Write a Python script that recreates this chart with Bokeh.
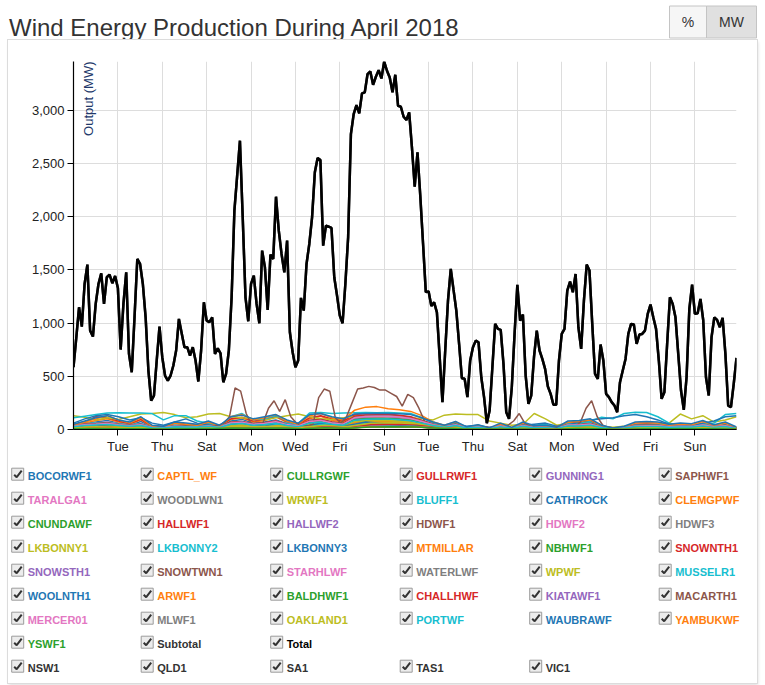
import math
import pandas as pd
from bokeh.plotting import figure
from bokeh.layouts import column
from bokeh.models import (Range1d, DaysTicker, DatetimeTickFormatter, SingleIntervalTicker,
                          NumeralTickFormatter, Label)
from bokeh.core.properties import value
from bokeh.palettes import Category10
from bokeh.embed import file_html
from bokeh.resources import INLINE

# ---------------- data ----------------
TITLE = "Wind Energy Production During April 2018"
BUTTONS = ["%", "MW"]
Y_LABEL = "Output (MW)"
START = "2018-04-01 00:00"
STEP = "3h"

total = [585, 860, 1148, 967, 1367, 1549, 929, 873, 1180, 1367,
         1467, 1180, 1430, 1455, 1374, 1442, 1330, 751, 1180, 1477,
         710, 538, 1054, 1602, 1555, 1367, 1054, 554, 272, 319,
         648, 967, 679, 507, 460, 507, 601, 742, 1039, 904,
         773, 773, 695, 773, 648, 451, 742, 1195, 1023, 1008,
         1054, 710, 763, 716, 444, 523, 742, 1242, 2056, 2384,
         2713, 1993, 1242, 1017, 1367, 1446, 1180, 998, 1680, 1524,
         1123, 1643, 1602, 2187, 1868, 1649, 1477, 1774, 914, 726,
         585, 648, 1236, 1117, 1555, 1743, 1993, 2416, 2550, 2531,
         1727, 1915, 1905, 1893, 1430, 1258, 1070, 998, 1367, 1805,
         2775, 2963, 3048, 2969, 3157, 3167, 3339, 3364, 3238, 3314,
         3376, 3298, 3457, 3370, 3307, 3167, 3332, 3041, 3032, 2938,
         2907, 2979, 2650, 2281, 2603, 2200, 1750, 1290, 1298, 1160,
         1195, 1101, 680, 257, 742, 1211, 1508, 1311, 1117, 804,
         482, 476, 304, 648, 773, 835, 820, 491, 304, 59,
         178, 585, 992, 945, 936, 616, 163, 100, 397, 898,
         1358, 1023, 1079, 507, 241, 319, 679, 929, 742, 663,
         569, 404, 335, 232, 232, 648, 898, 945, 1305, 1390,
         1289, 1461, 961, 757, 1211, 1549, 1493, 992, 523, 476,
         798, 648, 335, 304, 257, 225, 163, 444, 554, 663,
         898, 992, 986, 804, 892, 898, 929, 1086, 1173, 1054,
         945, 648, 288, 350, 804, 1242, 1180, 1054, 710, 366,
         185, 491, 1133, 1361, 1086, 1092, 1227, 1029, 491, 319,
         867, 1054, 1029, 961, 1048, 710, 225, 210, 429, 673]
subtotal = list(total)

bocorwf1 = [30,55,70,85,60,40,75,20,15,40, 35,30,50,25,80,95,60,70,90,55, 35,85,100,70,60,105,110,108,100,95,
            85,60,40,20,45,10,25,5,30,10, 40,15,20,10,45,50,60,20,5,10, 35,40,35,25,30,25,45,20,35,10]
captl_wf = [40,60,85,100,70,50,90,25,20,55, 45,40,60,30,95,110,70,85,120,65, 40,100,125,85,70,130,135,128,125,115,
            100,70,45,25,55,12,30,8,40,12, 50,20,25,12,55,60,75,25,8,15, 40,45,40,30,35,30,55,25,40,12]
cullrgwf = [8,12,10,7,4,6,8,14,12,15, 9,18,13,26,28,25,14,8,5,6, 6,4,10,9,3,8,7,6,9,6]
gullrwf1 = [45,70,120,110,80,55,95,30,25,60, 50,45,65,35,100,115,80,95,125,75, 50,110,130,100,80,140,150,148,145,135,
            120,85,55,30,60,15,35,10,45,15, 55,25,30,15,60,65,80,30,10,20, 50,55,50,35,40,35,60,30,45,15]
gunning1 = [14,20,16,12,8,11,12,22,18,22, 14,28,20,40,44,38,22,13,8,9, 9,7,16,13,5,13,11,10,14,9]
saphwf1 = [5,10,15,20,12,8,15,3,2,8, 6,5,10,4,20,25,15,18,25,12, 6,25,30,20,15,40,50,55,52,45,
           35,20,10,5,12,2,6,1,8,2, 10,4,5,2,12,14,18,5,1,3, 9,10,9,6,8,7,12,5,9,2]
taralga1 = [30,45,60,70,55,35,60,18,14,35, 30,28,40,20,65,75,50,60,80,45, 30,70,85,60,50,90,100,98,95,88,
            78,55,35,18,35,8,20,4,25,8, 30,12,16,8,35,38,48,16,4,10, 28,30,30,20,25,22,38,18,30,8]
woodlwn1 = [13,19,15,11,7,10,11,22,18,22, 14,28,20,42,45,40,21,12,8,8, 9,6,16,13,5,13,11,10,14,9]
wrwf1 = [130,115,90,110,95,120,145,150,160,140, 110,120,145,150,120,110,100,90,110,130,
         145,120,100,95,110,120,115,110,120,115, 110,100,90,135,145,140,140,80,60,40,
         50,150,100,40,60,50,40,30,20,30, 40,35,50,60,145,100,130,70,90,120]
bluff1 = [15,20,17,12,8,12,13,25,20,25, 15,30,22,45,50,44,24,14,9,10, 10,7,18,15,6,15,12,11,16,10]
cathrock = [18,25,20,15,10,14,16,32,27,32, 20,40,28,58,62,55,30,18,11,12, 13,9,23,19,7,18,15,14,20,13]
clemgpwf = [16,22,18,14,9,13,14,28,23,28, 17,34,25,50,55,48,26,15,10,11, 11,8,20,16,6,16,13,12,17,11]
cnundawf = [12,18,14,11,7,10,11,22,18,22, 14,27,20,40,44,38,21,12,8,8, 9,6,16,13,5,13,11,10,14,9]
hallwf1 = [25,35,40,45,35,28,35,15,14,25, 22,22,30,18,50,55,38,45,58,38, 26,60,68,50,40,85,90,92,92,88,
           78,58,35,20,36,12,20,6,25,10, 28,14,16,10,32,32,38,16,6,12, 26,28,27,18,22,22,32,18,27,9]
hallwf2 = [18,26,30,34,26,20,26,11,10,18, 16,16,22,13,36,40,28,34,42,28, 19,44,50,37,30,62,66,68,68,64,
           57,42,26,15,26,9,15,5,18,7, 21,10,12,7,24,24,28,12,5,9, 19,20,20,14,17,16,24,13,20,7]
hdwf1 = [27,38,42,48,38,30,38,16,15,26, 24,24,31,19,52,58,40,48,60,40, 28,62,70,52,42,88,96,98,98,92,
         82,60,38,22,38,14,22,7,28,11, 31,16,18,11,35,35,41,18,7,13, 28,30,29,20,25,24,35,20,29,10]
hdwf2 = [25,40,45,46,36,32,36,18,14,28, 22,26,29,21,50,60,38,50,58,42, 26,64,68,54,40,90,94,99,96,94,
         80,62,36,24,36,16,20,9,26,13, 29,18,16,13,33,37,39,20,6,15, 26,32,27,22,23,26,33,22,27,12]
hdwf3 = [28,42,46,50,40,31,40,17,16,27, 25,25,32,20,54,62,42,50,64,42, 29,66,74,55,44,94,102,104,104,98,
         86,64,40,23,40,15,23,8,29,12, 33,17,19,12,37,37,44,19,8,14, 30,31,31,21,26,25,37,21,31,11]
lkbonny1 = [20,28,32,36,28,22,28,12,11,20, 18,18,24,14,40,44,30,36,46,30, 21,48,54,40,32,70,76,78,78,74,
            66,48,30,17,28,10,17,6,21,8, 24,12,14,8,27,27,32,14,6,10, 22,23,23,16,19,18,27,15,23,8]
lkbonny2 = [40,55,60,65,55,45,55,25,22,40, 35,35,45,28,120,150,90,100,130,80, 55,155,160,150,155,158,160,158,160,155,
            150,110,60,35,60,20,35,10,45,15, 50,25,28,15,55,55,65,30,10,20, 45,48,48,33,40,38,55,30,45,15]
lkbonny3 = [10,14,11,9,6,8,9,17,14,17, 11,22,16,33,36,32,17,10,6,7, 7,5,13,11,4,11,9,8,11,7]
mtmillar = [18,26,28,32,26,20,26,11,10,18, 16,16,21,13,34,38,27,32,40,27, 19,42,48,35,28,60,66,68,68,64,
            56,40,25,14,25,9,14,5,18,7, 20,10,12,7,23,23,27,12,5,9, 19,20,20,14,16,16,23,13,19,7]
nbhwf1 = [34,48,52,58,46,38,46,20,19,32, 29,29,38,23,64,70,50,58,74,48, 34,78,88,64,52,115,125,128,128,120,
          106,78,46,28,47,17,28,9,35,14, 38,21,22,14,44,44,52,23,9,17, 36,38,37,26,32,30,44,26,37,13]
snownth1 = [36,52,56,62,50,40,50,22,20,34, 31,31,41,25,68,76,54,64,80,52, 37,84,94,70,56,124,136,138,138,130,
            115,84,50,30,50,18,30,10,38,15, 42,23,24,15,48,48,56,25,10,18, 39,41,40,28,34,33,48,28,40,14]
snowsth1 = [32,46,50,55,44,36,44,19,18,30, 27,27,36,22,60,66,47,56,70,46, 33,74,82,61,49,108,118,120,120,113,
            100,73,44,26,44,16,26,9,33,13, 36,20,21,13,42,42,49,22,9,16, 34,36,35,25,30,29,42,25,35,12]
snowtwn1 = [25,36,40,44,35,28,35,15,14,23, 21,21,28,17,47,52,37,44,55,36, 26,58,65,48,39,85,93,95,95,89,
            78,57,35,21,35,12,21,7,26,10, 29,16,17,10,33,33,39,17,7,13, 27,28,28,20,24,23,33,20,28,10]
starhlwf = [9,12,10,8,5,7,8,15,13,16, 10,20,14,30,33,29,15,9,6,6, 7,4,12,10,4,10,8,8,11,7]
waterlwf = [33,47,51,57,46,37,46,20,19,31, 28,28,37,23,63,69,49,58,73,47, 34,77,86,63,51,112,124,127,127,119,
            105,77,46,28,46,17,28,9,34,14, 38,21,22,14,43,43,51,23,9,17, 35,37,37,26,31,30,43,26,36,13]
wpwf = [22,32,35,40,32,25,32,14,13,21, 19,19,25,16,42,46,33,40,49,32, 23,52,58,43,35,76,84,86,86,80,
        70,51,31,18,31,11,19,6,23,9, 26,14,15,9,29,29,35,15,6,11, 24,25,25,18,21,21,29,18,25,9]
musselr1 = [110,125,140,155,158,156,155,150,90,130, 130,80,60,40,50,60,40,30,50,60, 40,30,50,40,30,40,60,50,40,30,
            40,30,20,30,40,20,30,15,20,10, 30,40,50,20,30,60,80,116,100,150, 163,160,120,60,40,30,50,60,140,150]
woolnth1 = [60,100,130,140,120,90,110,60,40,70, 100,60,40,30,50,70,40,30,60,50, 30,40,60,50,30,50,70,60,50,40,
            50,40,20,40,50,30,40,20,30,15, 40,50,60,30,40,70,90,100,110,130, 140,120,90,50,40,30,60,80,120,130]
arwf1 = [40,70,100,130,90,60,110,30,20,60, 50,40,70,30,120,140,90,110,140,80, 50,130,150,110,90,180,210,215,195,185,
         170,130,70,40,70,20,40,10,50,20, 60,30,35,20,70,75,90,35,10,25, 60,65,60,40,50,45,75,40,60,20]
baldhwf1 = [28,40,44,48,40,32,40,17,16,27, 25,25,32,20,55,60,42,50,62,42, 29,65,74,56,45,92,100,102,102,96,
            86,64,40,23,40,15,23,8,29,12, 33,17,19,12,37,37,44,19,8,14, 30,31,31,21,26,25,37,21,31,11]
challhwf = [14,20,16,12,8,11,12,24,20,24, 15,30,22,46,50,44,24,14,9,10, 10,7,18,15,5,14,12,11,16,10]
kiatawf1 = [8,12,9,7,5,7,7,15,12,15, 9,18,13,27,29,26,14,8,6,6, 6,4,11,9,3,8,7,7,9,6]
macarth1 = [20,30,15,10,25,40,30,20,10,15,30,20,10,5,10,20,25,15,10,20,30,25,15,10,20,30,40,60,
            120,390,360,150,40,30,60,200,270,170,280,120,60,40,30,50,300,380,360,110,60,120,250,380,
            390,405,395,370,370,340,310,220,330,300,200,80,40,
            30,20,15,25,20,10,8,15,20,25,15,10,20,40, 80,150,60, 30,20,15,10,20,30,25,15,30,
            70,200,270,120,40, 20,15,10,5,10,20,30,25,15,20,30,25,20,15,10,20,30,40,30,20,15,10,20,25]
mercer01 = [30,45,50,56,45,36,45,19,18,30, 27,27,36,22,62,68,48,57,72,46, 33,76,85,62,50,110,122,125,125,117,
            103,76,45,27,45,16,27,9,33,13, 37,20,21,13,42,42,50,22,9,16, 34,36,36,25,30,29,42,25,35,12]
mlwf1 = [8,11,9,7,4,6,7,14,12,14, 9,18,13,27,29,26,14,8,5,6, 6,4,10,8,3,8,7,6,9,6]
oakland1 = [18,26,21,16,10,15,16,32,27,32, 20,40,28,58,63,55,30,18,11,12, 13,9,23,19,7,18,15,14,20,13]
portwf = [26,38,42,46,38,30,38,16,15,25, 23,23,30,19,50,56,39,47,58,38, 27,60,68,50,41,88,96,98,98,92,
          82,60,37,21,37,14,21,7,27,11, 30,16,17,11,34,34,40,18,7,13, 28,29,29,20,24,23,34,20,28,10]
waubrawf = [50,80,110,130,90,70,120,40,30,70, 60,50,80,40,120,135,100,120,140,90, 60,140,150,120,100,145,150,152,150,148,
            140,110,70,40,75,25,45,15,60,20, 70,35,40,20,80,85,100,40,15,30, 70,75,70,50,60,55,85,45,70,25]
yambukwf = [8,11,9,7,5,6,7,14,12,14, 9,17,12,25,27,24,13,8,5,5, 6,4,10,8,3,8,7,6,9,6]
yswf1 = [7,10,8,6,4,6,6,13,11,13, 8,16,12,24,26,23,12,7,5,5, 5,3,9,7,3,7,6,6,8,5]

farm_names = ["BOCORWF1", "CAPTL_WF", "CULLRGWF", "GULLRWF1", "GUNNING1", "SAPHWF1",
              "TARALGA1", "WOODLWN1", "WRWF1", "BLUFF1", "CATHROCK", "CLEMGPWF",
              "CNUNDAWF", "HALLWF1", "HALLWF2", "HDWF1", "HDWF2", "HDWF3",
              "LKBONNY1", "LKBONNY2", "LKBONNY3", "MTMILLAR", "NBHWF1", "SNOWNTH1",
              "SNOWSTH1", "SNOWTWN1", "STARHLWF", "WATERLWF", "WPWF", "MUSSELR1",
              "WOOLNTH1", "ARWF1", "BALDHWF1", "CHALLHWF", "KIATAWF1", "MACARTH1",
              "MERCER01", "MLWF1", "OAKLAND1", "PORTWF", "WAUBRAWF", "YAMBUKWF", "YSWF1"]
farm_values = [bocorwf1, captl_wf, cullrgwf, gullrwf1, gunning1, saphwf1,
               taralga1, woodlwn1, wrwf1, bluff1, cathrock, clemgpwf,
               cnundawf, hallwf1, hallwf2, hdwf1, hdwf2, hdwf3,
               lkbonny1, lkbonny2, lkbonny3, mtmillar, nbhwf1, snownth1,
               snowsth1, snowtwn1, starhlwf, waterlwf, wpwf, musselr1,
               woolnth1, arwf1, baldhwf1, challhwf, kiatawf1, macarth1,
               mercer01, mlwf1, oakland1, portwf, waubrawf, yambukwf, yswf1]
extra_names = ["Subtotal", "Total"]
regions = ["NSW1", "QLD1", "SA1", "TAS1", "VIC1"]

# ---------------- styling ----------------
FONT = "Liberation Sans"
PAL = Category10[10]
farm_colors = [PAL[k % 10] for k in range(len(farm_names))]
PAGE_W = 765
W = 749          # panel width
PANEL_X = 8

def no_align(f):
    if "frame_align" in type(f).properties():
        f.frame_align = False
    return f

def blank(w, h):
    f = figure(width=w, height=h, x_range=Range1d(0, w), y_range=Range1d(h, 0),
               output_backend="svg", toolbar_location=None, min_border=0,
               x_axis_type=None, y_axis_type=None, outline_line_color=None)
    f.grid.visible = False
    f.background_fill_color = "white"
    f.border_fill_color = "white"
    return no_align(f)

# ---------------- header ----------------
hdr = blank(PAGE_W, 40)
hdr.text(x=[8.5], y=[27], text=[TITLE], text_font=value(FONT), text_font_size="24px",
         text_color="#333333", text_baseline="alphabetic", text_align="left")
hdr.quad(left=[669, 706], right=[706, 756], top=[5.5, 5.5], bottom=[37.5, 37.5],
         fill_color=["#f6f6f6", "#e0e0e0"], line_color="#c4c4c4", line_width=1)
hdr.text(x=[687.5, 731], y=[21.5, 21.5], text=BUTTONS, text_font=value(FONT), text_font_size="14px",
         text_color="#333333", text_align="center", text_baseline="middle")

# ---------------- chart ----------------
times = pd.date_range(START, periods=len(total), freq=STEP)
t0, t1 = times[0], times[-1]
ymax = max(total)
chart = figure(width=W, height=418, x_axis_type="datetime",
               x_range=Range1d(t0, t1), y_range=Range1d(0, ymax),
               output_backend="svg", toolbar_location=None,
               min_border_left=65, min_border_right=21, min_border_top=21, min_border_bottom=29,
               outline_line_color=None)
no_align(chart)
chart.background_fill_color = "white"
chart.border_fill_color = "white"

for vals, col in zip(farm_values, farm_colors):
    ft = pd.date_range(t0, t1, periods=len(vals))
    chart.line(ft, vals, line_color=col, line_width=1.5)
chart.line(times, subtotal, line_color="#333333", line_width=2.5)
chart.line(times, total, line_color="#000000", line_width=2.5)

chart.xaxis.ticker = DaysTicker(days=list(range(3, 31, 2)))
chart.xaxis.formatter = DatetimeTickFormatter(days="%a")
chart.yaxis.ticker = SingleIntervalTicker(interval=500, num_minor_ticks=0)
chart.yaxis.formatter = NumeralTickFormatter(format="0,0")
for ax in (chart.xaxis, chart.yaxis):
    ax.axis_line_color = "#000000"
    ax.axis_line_width = 1.2
    ax.major_tick_line_color = "#000000"
    ax.major_tick_out = 6
    ax.major_tick_in = 0
    ax.minor_tick_line_color = None
    ax.major_label_text_font = FONT
    ax.major_label_text_font_size = "13px"
    ax.major_label_text_color = "#222222"
    ax.major_label_standoff = 3
chart.grid.grid_line_color = "#dddddd"
chart.grid.grid_line_width = 1

chart.add_layout(Label(x=t0.value / 1e6, y=ymax, text=Y_LABEL, angle=math.pi / 2,
                       text_align="right", text_baseline="alphabetic", x_offset=15,
                       text_font=FONT, text_font_size="13px", text_color="#22386a"))

# ---------------- legend (checkbox grid) ----------------
leg = blank(W, 225)
COL_X0, COL_DX, ROW_Y0, ROW_DY, NCOL = 3.7, 129.5, 17.7, 24.0, 6
names = farm_names + extra_names
colors = farm_colors + ["#333333", "#000000"]
pos = [(k // NCOL, k % NCOL) for k in range(len(names))]
last_row = pos[-1][0] + 1
names = names + regions
colors = colors + ["#333333"] * len(regions)
pos = pos + [(last_row, c) for c in range(len(regions))]

bx = [COL_X0 + c * COL_DX + 5.5 for r, c in pos]
by = [ROW_Y0 + r * ROW_DY - 2 for r, c in pos]
leg.rect(x=bx, y=by, width=12, height=12, fill_color="#ececec", line_color="#9c9c9c", line_width=1)
leg.multi_line(xs=[[x - 3.5, x - 1, x + 4] for x in bx],
               ys=[[y + 0.5, y + 3, y - 3.5] for y in by],
               line_color="#333333", line_width=2)
leg.text(x=[COL_X0 + c * COL_DX + 15.5 for r, c in pos],
         y=[ROW_Y0 + r * ROW_DY for r, c in pos],
         text=names, text_color=colors, text_font=value(FONT), text_font_style="bold",
         text_font_size="11px", text_baseline="middle", text_align="left")

panel = column(chart, column(leg), margin=(0, 0, 0, PANEL_X),
               styles={"box-shadow": "0 0 0 1px #dcdcdc, 1px 2px 3px rgba(0,0,0,0.15)"})
page = column(hdr, panel)

open("out.html", "w").write(file_html(page, INLINE, title=TITLE))
